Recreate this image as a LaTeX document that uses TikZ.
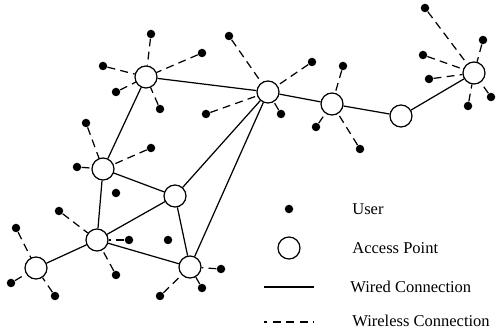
\documentclass[tikz,border=0pt]{standalone}
\usepackage{fontspec}
\setmainfont{Liberation Serif}
\usepackage{tikz}

\tikzset{
  ap/.style={circle,draw,fill=white,line width=0.7pt,minimum size=0.44cm,inner sep=0pt},
  user/.style={circle,fill=black,minimum size=0.17cm,inner sep=0pt},
  wired/.style={line width=0.7pt},
  wireless/.style={line width=0.7pt,dash pattern=on 4.5pt off 3pt},
  legtext/.style={anchor=west,inner sep=0pt}
}

\begin{document}
\begin{tikzpicture}[x=0.02cm,y=-0.02cm,font=\fontsize{9.4}{11}\selectfont]
\useasboundingbox (0,0) rectangle (496,333);
% access points
\node[ap] (ap1) at (146,77) {};
\node[ap] (ap2) at (268,92) {};
\node[ap] (ap3) at (332,104) {};
\node[ap] (ap4) at (401,116) {};
\node[ap] (ap5) at (474,73) {};
\node[ap] (ap6) at (103,169) {};
\node[ap] (ap7) at (175,196) {};
\node[ap] (ap8) at (97,240) {};
\node[ap] (ap9) at (36,268) {};
\node[ap] (ap10) at (190,267) {};
% users
\node[user] (u1a) at (151,34) {};
\node[user] (u1b) at (202,53) {};
\node[user] (u1c) at (103,66) {};
\node[user] (u1d) at (116,92) {};
\node[user] (u1e) at (160,109) {};
\node[user] (u2a) at (229,36) {};
\node[user] (u2b) at (312,62) {};
\node[user] (u2c) at (206,114) {};
\node[user] (u2d) at (281,114) {};
\node[user] (u3a) at (343,66) {};
\node[user] (u3b) at (316,127) {};
\node[user] (u3c) at (360,149) {};
\node[user] (u5a) at (425,8) {};
\node[user] (u5b) at (483,40) {};
\node[user] (u5c) at (423,55) {};
\node[user] (u5d) at (429,79) {};
\node[user] (u5e) at (468,106) {};
\node[user] (u5f) at (491,97) {};
\node[user] (u6a) at (86,123) {};
\node[user] (u6b) at (151,148) {};
\node[user] (u6c) at (77,167) {};
\node[user] (u8a) at (59,211) {};
\node[user] (u8b) at (129,240) {};
\node[user] (u8c) at (116,275) {};
\node[user] (u9a) at (16,228) {};
\node[user] (u9b) at (11,283) {};
\node[user] (u9c) at (55,296) {};
\node[user] (u10a) at (221,269) {};
\node[user] (u10b) at (202,288) {};
\node[user] (u10c) at (160,296) {};
\node[user] (s1) at (116,193) {};
\node[user] (s2) at (168,240) {};
% wireless links
\foreach \u/\a in {u1a/ap1,u1b/ap1,u1c/ap1,u1d/ap1,u1e/ap1,
                   u2a/ap2,u2b/ap2,u2c/ap2,u2d/ap2,
                   u3a/ap3,u3b/ap3,u3c/ap3,
                   u5a/ap5,u5b/ap5,u5c/ap5,u5d/ap5,u5e/ap5,u5f/ap5,
                   u6a/ap6,u6b/ap6,u6c/ap6,
                   u8a/ap8,u8b/ap8,u8c/ap8,
                   u9a/ap9,u9b/ap9,u9c/ap9,
                   u10a/ap10,u10b/ap10,u10c/ap10}
  \draw[wireless] (\u) -- (\a);
% wired links
\foreach \a/\b in {ap1/ap2,ap1/ap6,ap2/ap3,ap3/ap4,ap4/ap5,ap2/ap7,ap2/ap10,
                   ap6/ap7,ap6/ap8,ap7/ap8,ap7/ap10,ap8/ap10,ap8/ap9}
  \draw[wired] (\a) -- (\b);
% legend
\node[user] (legdot) at (289,209) {};
\node[ap] (legap) at (289,248) {};
\coordinate (wa) at (264,287);
\coordinate (wb) at (314,287);
\coordinate (la) at (264,322);
\coordinate (lb) at (314,322);
\draw[wired] (wa) -- (wb);
\draw[wireless,dash pattern=on 4.5pt off 3.2pt,dash phase=2.8pt] (la) -- (lb);
\node[legtext] (tuser) at (352,209) {User};
\node[legtext] (tap) at (352,248) {Access Point};
\node[legtext] (twired) at (350,287) {Wired Connection};
\node[legtext] (twless) at (352,321) {Wireless Connection};
\end{tikzpicture}
\end{document}
